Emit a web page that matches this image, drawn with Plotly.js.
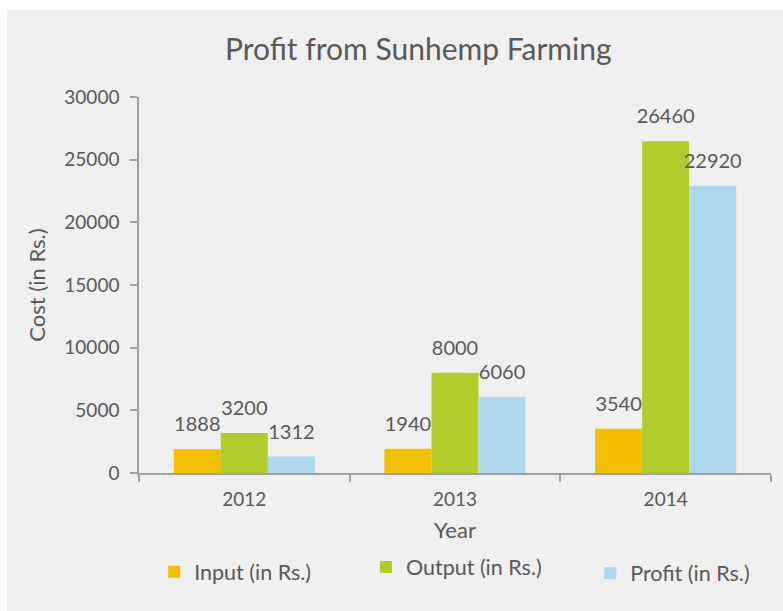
<!DOCTYPE html>
<html>
<head>
<meta charset="utf-8">
<script src="https://cdn.plot.ly/plotly-3.0.1.min.js"></script>
<style>
  html, body { margin: 0; padding: 0; background: #ffffff; }
  #chart { position: absolute; left: 7px; top: 10px; width: 776px; height: 601px; }
</style>
</head>
<body>
<div id="chart"></div>
<script>
const years = ["2012", "2013", "2014"];
const inputCost = [1888, 1940, 3540];
const outputCost = [3200, 8000, 26460];
const profit = [1312, 6060, 22920];
const seriesNames = ["Input (in Rs.)", "Output (in Rs.)", "Profit (in Rs.)"];
const seriesColors = ["#f2c000", "#b2cb2d", "#aed8ee"];
const yTicks = [0, 5000, 10000, 15000, 20000, 25000, 30000];

const textColor = "#595959";
const fontFam = "Lato, 'Open Sans', sans-serif";
const allValues = [inputCost, outputCost, profit];
const legendIds = ["legend", "legend2", "legend3"];

const traces = allValues.map((vals, i) => ({
  type: "bar",
  name: seriesNames[i],
  x: years,
  y: vals,
  marker: { color: seriesColors[i] },
  text: vals.map(v => "<span style='font-size:20px'>" + v + "</span><br> "),
  textposition: "outside",
  textfont: { family: fontFam, size: 10, color: textColor },
  constraintext: "none",
  cliponaxis: false,
  legend: legendIds[i],
  hovertemplate: "%{x}: %{y}<extra>" + seriesNames[i] + "</extra>"
}));

const legendBase = {
  orientation: "h",
  bgcolor: "rgba(0,0,0,0)",
  font: { family: fontFam, size: 21.5, color: textColor },
  xanchor: "left",
  yanchor: "middle",
  xref: "paper",
  yref: "paper"
};

const layout = {
  width: 776,
  height: 601,
  paper_bgcolor: "#f0f0f0",
  plot_bgcolor: "#f0f0f0",
  margin: { l: 132, r: 12, t: 87, b: 138 },
  font: { family: fontFam, color: textColor, size: 19 },
  title: {
    text: "Profit from Sunhemp Farming",
    font: { family: fontFam, size: 30, color: textColor },
    xref: "container",
    x: 0.53,
    xanchor: "center",
    yref: "container",
    y: 0.934,
    yanchor: "middle"
  },
  barmode: "group",
  bargap: 0.33,
  bargroupgap: 0,
  showlegend: true,
  legend: Object.assign({}, legendBase, { x: 0.024, y: -0.263 }),
  legend2: Object.assign({}, legendBase, { x: 0.359, y: -0.25 }),
  legend3: Object.assign({}, legendBase, { x: 0.714, y: -0.266 }),
  xaxis: {
    type: "category",
    showline: true,
    linecolor: "#a0a0a0",
    linewidth: 2,
    ticks: "outside",
    tickson: "boundaries",
    ticklen: 7,
    tickwidth: 2,
    tickcolor: "#a0a0a0",
    ticklabelstandoff: 8,
    showgrid: false,
    zeroline: false,
    tickfont: { family: fontFam, size: 19, color: textColor },
    title: { text: "Year", font: { family: fontFam, size: 22, color: textColor }, standoff: 14 }
  },
  yaxis: {
    range: [0, 30000],
    tickvals: yTicks,
    ticktext: yTicks.map(v => String(v)),
    showline: true,
    linecolor: "#a0a0a0",
    linewidth: 1.5,
    ticks: "outside",
    ticklen: 7,
    tickwidth: 1.5,
    tickcolor: "#a0a0a0",
    ticklabelstandoff: 7,
    showgrid: false,
    zeroline: false,
    tickfont: { family: fontFam, size: 19, color: textColor },
    title: { text: "Cost (in Rs.)", font: { family: fontFam, size: 22, color: textColor }, standoff: 13 }
  }
};

Plotly.newPlot("chart", traces, layout, { displayModeBar: false, responsive: false });
</script>
</body>
</html>
